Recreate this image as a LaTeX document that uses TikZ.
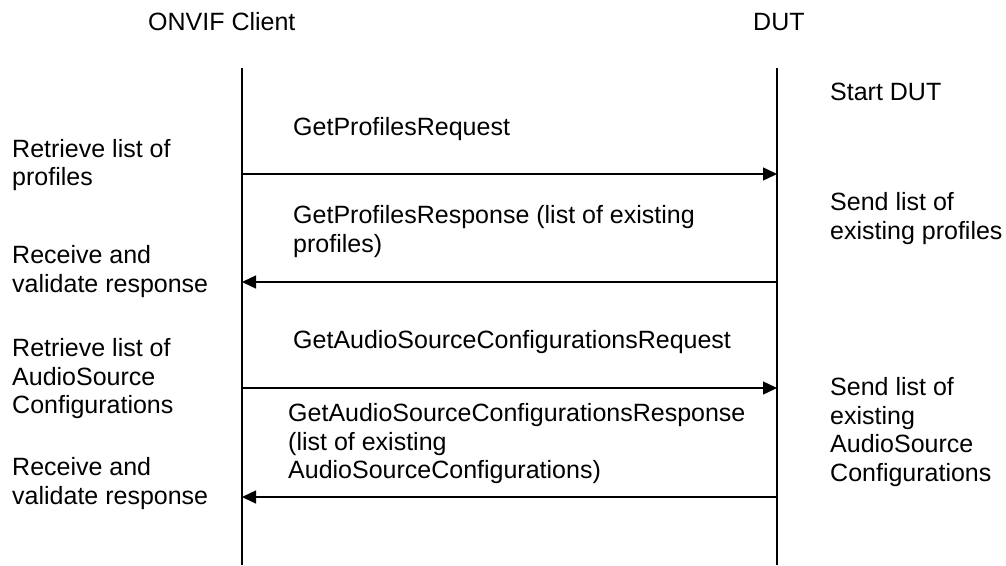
\documentclass[tikz,border=0pt]{standalone}
\usepackage{fontspec}
\setmainfont{Liberation Sans}
\usetikzlibrary{arrows.meta}

\begin{document}
\begin{tikzpicture}[x=1pt, y=-1pt,
    lifeline/.style={line width=1.4pt, black},
    msg/.style={line width=1.4pt, -{Triangle[length=14pt, width=13pt]}},
    note/.style={anchor=west, align=left, inner sep=0pt, font=\fontsize{25}{28.5}\selectfont}
]
\useasboundingbox (0,0) rectangle (1006,565);

% Participants
\node[note] (client) at (148,22) {ONVIF Client};
\node[note] (dut) at (753,22) {DUT};

% Lifelines
\coordinate (clienttop) at (242,68);
\coordinate (clientbot) at (242,565);
\coordinate (duttop) at (777,68);
\coordinate (dutbot) at (777,565);
\draw[lifeline] (clienttop) -- (clientbot);
\draw[lifeline] (duttop) -- (dutbot);

% Message anchors
\foreach \y [count=\i] in {174,282,388,497} {
    \coordinate (cl\i) at (242,\y);
    \coordinate (du\i) at (777,\y);
}

% Messages
\draw[msg] (cl1) -- (du1);
\draw[msg] (du2) -- (cl2);
\draw[msg] (cl3) -- (du3);
\draw[msg] (du4) -- (cl4);

\node[note] (req1) at (293,129.5) {GetProfilesRequest};
\node[note] (res1) at (293,231.5) {GetProfilesResponse (list of existing\\profiles)};
\node[note] (req2) at (293,342.5) {GetAudioSourceConfigurationsRequest};
\node[note] (res2) at (288,444) {GetAudioSourceConfigurationsResponse\\(list of existing\\AudioSourceConfigurations)};

% Client side
\node[note] (retr1) at (12,165) {Retrieve list of\\profiles};
\node[note] (recv1) at (12,271.5) {Receive and\\validate response};
\node[note] (retr2) at (12,379) {Retrieve list of\\AudioSource\\Configurations};
\node[note] (recv2) at (12,483.5) {Receive and\\validate response};

% DUT side
\node[note] (start) at (830,92) {Start DUT};
\node[note] (send1) at (830,218.5) {Send list of\\existing profiles};
\node[note] (send2) at (830,432) {Send list of\\existing\\AudioSource\\Configurations};

\end{tikzpicture}
\end{document}
